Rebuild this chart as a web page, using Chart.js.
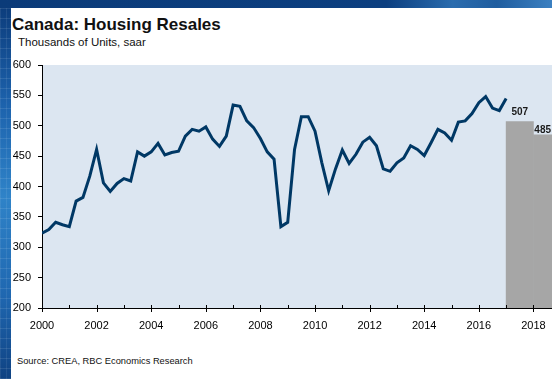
<!DOCTYPE html>
<html>
<head>
<meta charset="utf-8">
<script src="https://cdn.jsdelivr.net/npm/chart.js@4"></script>
<style>
    html, body { margin: 0; padding: 0; width: 552px; height: 379px; overflow: hidden; }
    body {
        position: relative;
        font-family: "Liberation Sans", Arial, sans-serif;
        background:
            repeating-linear-gradient(0deg, rgba(255,255,255,0.10) 0 1px, transparent 1px 10px),
            repeating-linear-gradient(90deg, rgba(255,255,255,0.08) 0 1px, transparent 1px 6px),
            linear-gradient(180deg, #0b3a78 0%, #1d63ad 28%, #2f83c8 52%, #1f67b0 78%, #0f4282 100%);
    }
    #band {
        position: absolute; left: 0; top: 0; width: 552px; height: 8px;
        background: linear-gradient(90deg, #0b3b79 0%, #0c3f80 70%, #2a6cae 82%, #1f5d9f 90%, #3b80c1 100%);
    }
    #panel { position: absolute; left: 11px; top: 8px; right: 0; bottom: 0; background: #fff; }
    .txt { position: absolute; line-height: 1; color: #111; white-space: nowrap; }
    #title { left: 12px; top: 16px; font-size: 17px; font-weight: bold; }
    #subtitle { left: 18px; top: 37px; font-size: 11.5px; }
    #source { left: 17px; top: 357px; font-size: 9.3px; }
    #chart { position: absolute; left: 0; top: 0; }
</style>
</head>
<body>
<div id="band"></div>
<div id="panel"></div>
<div class="txt" id="title">Canada: Housing Resales</div>
<div class="txt" id="subtitle">Thousands of Units, saar</div>
<div class="txt" id="source">Source: CREA, RBC Economics Research</div>
<canvas id="chart" width="552" height="379"></canvas>

<script>
// quarterly resales, thousands of units (saar), one row per year
const years = [2000, 2001, 2002, 2003, 2004, 2005, 2006, 2007, 2008,
               2009, 2010, 2011, 2012, 2013, 2014, 2015, 2016, 2017];
const resales = [
    [323, 329, 341, 337],
    [334, 376, 382, 417],
    [461, 406, 392, 405],
    [413, 409, 457, 450],
    [457, 471, 452, 456],
    [458, 483, 494, 491],
    [498, 478, 466, 483],
    [534, 532, 508, 497],
    [479, 457, 445, 334],
    [341, 461, 515, 515],
    [491, 439, 393, 429],
    [460, 438, 453, 473],
    [481, 467, 429, 425],
    [439, 447, 467, 461],
    [451, 472, 494, 488],
    [476, 506, 508, 520],
    [538, 548, 529, 525],
    [545]
];

// annual forecast
const forecastYears = [2017, 2018];
const forecastValues = [507, 485];

const tickYears = [2000, 2001, 2002, 2003, 2004, 2005, 2006, 2007, 2008, 2009,
                   2010, 2011, 2012, 2013, 2014, 2015, 2016, 2017, 2018];

const FONT = "'Liberation Sans', Arial, sans-serif";

const linePoints = [];
years.forEach((yr, i) => {
    resales[i].forEach((v, q) => linePoints.push({ x: yr + q * 0.25, y: v }));
});

const barPoints = forecastYears.map((yr, i) => ({ x: yr + 0.5, y: forecastValues[i] }));

// light blue plot background
const plotBg = {
    id: "plotBg",
    beforeDraw(chart) {
        const { ctx, chartArea: a } = chart;
        ctx.save();
        ctx.fillStyle = "#dce6f1";
        ctx.fillRect(a.left, a.top, a.right - a.left, a.bottom - a.top);
        ctx.restore();
    }
};

// year ticks on the x axis: even years cross the axis, odd years only inside
const yearTicks = {
    id: "yearTicks",
    afterDraw(chart) {
        const { ctx, chartArea: a } = chart;
        const xs = chart.scales.x;
        ctx.save();
        ctx.strokeStyle = "#000";
        ctx.lineWidth = 1;
        tickYears.forEach(yr => {
            const px = Math.round(xs.getPixelForValue(yr)) + 0.5;
            ctx.beginPath();
            ctx.moveTo(px, a.bottom - 3);
            ctx.lineTo(px, yr % 2 === 0 ? a.bottom + 4 : a.bottom);
            ctx.stroke();
        });
        ctx.restore();
    }
};

// value labels over the forecast bars
const barLabels = {
    id: "barLabels",
    afterDatasetsDraw(chart) {
        const ctx = chart.ctx;
        const meta = chart.getDatasetMeta(1);
        const lift = [6, 2];
        ctx.save();
        ctx.font = "bold 10px " + FONT;
        ctx.fillStyle = "#1a1a1a";
        ctx.textAlign = "center";
        ctx.textBaseline = "alphabetic";
        meta.data.forEach((bar, i) => {
            const text = String(forecastValues[i]);
            const w = ctx.measureText(text).width;
            const x = Math.min(bar.x, chart.width - w / 2 - 1);
            ctx.fillText(text, x, bar.y - lift[i]);
        });
        ctx.restore();
    }
};

new Chart(document.getElementById("chart"), {
    type: "line",
    data: {
        datasets: [
            {
                label: "Resales",
                data: linePoints,
                borderColor: "#003865",
                borderWidth: 3,
                pointRadius: 0,
                tension: 0,
                fill: false,
                order: 1
            },
            {
                type: "bar",
                label: "Forecast",
                data: barPoints,
                backgroundColor: "#a6a6a6",
                borderWidth: 0,
                barPercentage: 1,
                categoryPercentage: 1,
                grouped: false,
                order: 2
            }
        ]
    },
    options: {
        responsive: false,
        animation: false,
        layout: { padding: { top: 65, left: 0, right: 0, bottom: 0 } },
        plugins: {
            legend: { display: false },
            tooltip: { enabled: false }
        },
        scales: {
            x: {
                type: "linear",
                min: 2000,
                max: 2018.68,
                offset: false,
                afterBuildTicks: s => { s.ticks = tickYears.map(v => ({ value: v })); },
                afterFit: s => {
                    s.height = 71;
                    s.paddingLeft = 0;
                    s.paddingRight = 0;
                },
                grid: { display: false, offset: false },
                border: { display: true, color: "#000", width: 1 },
                ticks: {
                    autoSkip: false,
                    maxRotation: 0,
                    padding: 3,
                    color: "#000",
                    font: { family: FONT, size: 11 },
                    callback: v => (v % 2 === 0 ? String(v) : "")
                }
            },
            y: {
                min: 200,
                max: 600,
                afterFit: s => {
                    s.width = 42;
                    s.paddingTop = 0;
                    s.paddingBottom = 0;
                },
                grid: { drawOnChartArea: false, tickLength: 4, color: "#000" },
                border: { display: true, color: "#000", width: 1 },
                ticks: {
                    stepSize: 50,
                    padding: 7,
                    color: "#000",
                    font: { family: FONT, size: 11 }
                }
            }
        }
    },
    plugins: [plotBg, yearTicks, barLabels]
});
</script>
</body>
</html>
